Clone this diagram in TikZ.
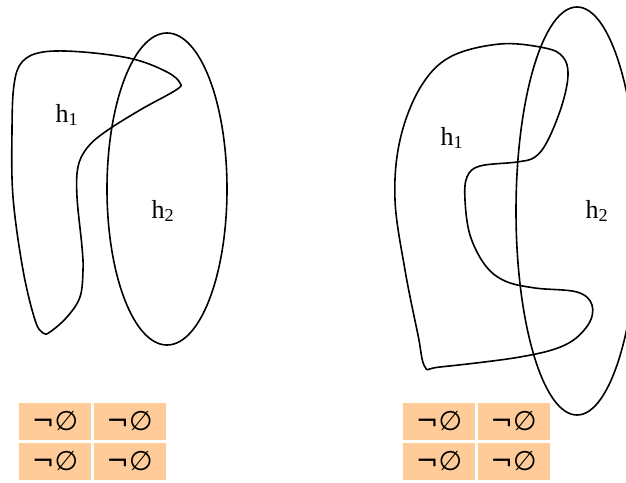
\documentclass[tikz,border=0pt]{standalone}
\usepackage{fontspec}
\setmainfont{Liberation Serif}
\newfontfamily\symfont{DejaVu Sans}
\definecolor{peach}{RGB}{255,204,153}
\tikzset{
  region/.style={line width=1.6pt, line join=round},
  hlabel/.style={font=\fontsize{26}{30}\selectfont, inner sep=0pt},
  cell/.style={fill=peach, minimum width=72pt, minimum height=37pt, inner sep=0pt,
    font=\symfont\fontsize{27}{30}\selectfont}
}
\begin{document}
\begin{tikzpicture}[x=1pt,y=-1pt]
  \useasboundingbox (0,0) rectangle (626,482);
  \clip (0,0) rectangle (626,482);

  % left pair
  \draw[region] plot[smooth cycle, tension=0.6] coordinates {
    (43,52) (83,52) (133,59) (167,72) (180,83) (176,90) (140,110) (105,132)
    (87,148) (78,167) (77,197) (82,247) (83,270) (80,297) (67,317) (50,332)
    (43,333) (35,320) (23,270) (13,197) (12,130) (14,85) (22,62)};
  \draw[region] (167,189) ellipse [x radius=60, y radius=156];
  \node[hlabel] (hA) at (67,115) {h\textsubscript{1}};
  \node[hlabel] (hB) at (163,211) {h\textsubscript{2}};

  % right pair
  \draw[region] plot[smooth cycle, tension=0.6] coordinates {
    (450,57) (500,44) (545,48) (563,57) (568,75) (562,105) (548,140) (535,157)
    (517,162) (480,166) (467,177) (465,200) (470,235) (485,265) (505,281)
    (535,288) (577,292) (592,305) (588,325) (565,345) (520,357) (440,367)
    (425,367) (418,335) (405,270) (395,200) (400,140) (420,88)};
  \draw[region] (577,211) ellipse [x radius=61, y radius=204];
  \node[hlabel] (hC) at (452,138) {h\textsubscript{1}};
  \node[hlabel] (hD) at (597,211) {h\textsubscript{2}};

  % cells
  \node[cell] (la) at (55,421.5) {¬∅};
  \node[cell] (lb) at (129.5,421.5) {¬∅};
  \node[cell] (lc) at (55,461.5) {¬∅};
  \node[cell] (ld) at (129.5,461.5) {¬∅};
  \node[cell] (ra) at (439,421.5) {¬∅};
  \node[cell] (rb) at (513.5,421.5) {¬∅};
  \node[cell] (rc) at (439,461.5) {¬∅};
  \node[cell] (rd) at (513.5,461.5) {¬∅};
\end{tikzpicture}
\end{document}
